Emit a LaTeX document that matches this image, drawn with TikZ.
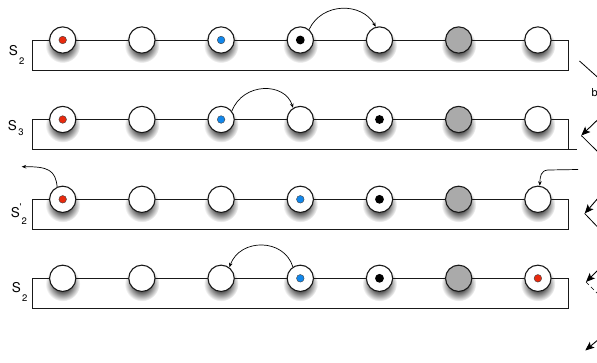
\documentclass[tikz,border=0pt]{standalone}
\usepackage{fontspec}
\setmainfont{TeX Gyre Heros}
\usetikzlibrary{arrows.meta}
\definecolor{dotred}{RGB}{232,42,14}
\definecolor{dotblue}{RGB}{18,135,235}
\definecolor{slotgray}{RGB}{170,170,170}
\pgfdeclareradialshading{circshadow}{\pgfpoint{0bp}{0bp}}{color(0bp)=(black!75); color(12bp)=(black!62); color(25bp)=(white); color(50bp)=(white)}
\tikzset{
  frame/.style={draw=black!90, line width=0.9pt},
  slot/.style={circle, draw=black!90, line width=1.1pt, fill=white, minimum size=26.3pt, inner sep=0pt},
  grayslot/.style={slot, fill=slotgray},
  redslot/.style={slot, path picture={\filldraw[fill=dotred, draw=black!75, line width=0.4pt] (path picture bounding box.center) circle (3.8);}},
  blueslot/.style={slot, path picture={\filldraw[fill=dotblue, draw=black!75, line width=0.4pt] (path picture bounding box.center) circle (3.8);}},
  blackslot/.style={slot, path picture={\fill[black] (path picture bounding box.center) circle (4.4);}},
  arr/.style={-{Stealth[length=4.5pt,width=3.6pt]}, line width=0.7pt},
  bigarr/.style={-{Stealth[length=9pt,width=7.5pt,inset=2pt]}, line width=0.9pt},
  lab/.style={inner sep=0pt, font=\fontsize{13.5}{14}\selectfont},
  sublab/.style={inner sep=0pt, font=\fontsize{9.5}{10}\selectfont},
}
\begin{document}
\begin{tikzpicture}[x=1pt,y=-1pt]
\useasboundingbox (0,0) rectangle (597,362);
\clip (0,0) rectangle (597,362);
% shadows
\foreach \yy in {40,119.5,199.3,278.3}{
  \foreach \i in {0,...,6}{
    \shade[shading=circshadow] ({62.7+79.2*\i},{\yy+5.5}) circle (17.5);
  }
}
% frames
\foreach \yy in {40,119.5,199.3,278.3}{
  \draw[frame] (32.7,\yy) rectangle (568.3,{\yy+30});
}
\draw[frame] (568.3,149.5) -- (576.5,149.5);
% row 1
\node[redslot]   (c1-1) at (62.7,40) {};
\node[slot]      (c1-2) at (141.9,40) {};
\node[blueslot]  (c1-3) at (221.1,40) {};
\node[blackslot] (c1-4) at (300.3,40) {};
\node[slot]      (c1-5) at (379.5,40) {};
\node[grayslot]  (c1-6) at (458.7,40) {};
\node[slot]      (c1-7) at (537.9,40) {};
% row 2
\node[redslot]   (c2-1) at (62.7,119.5) {};
\node[slot]      (c2-2) at (141.9,119.5) {};
\node[blueslot]  (c2-3) at (221.1,119.5) {};
\node[slot]      (c2-4) at (300.3,119.5) {};
\node[blackslot] (c2-5) at (379.5,119.5) {};
\node[grayslot]  (c2-6) at (458.7,119.5) {};
\node[slot]      (c2-7) at (537.9,119.5) {};
% row 3
\node[redslot]   (c3-1) at (62.7,199.3) {};
\node[slot]      (c3-2) at (141.9,199.3) {};
\node[slot]      (c3-3) at (221.1,199.3) {};
\node[blueslot]  (c3-4) at (300.3,199.3) {};
\node[blackslot] (c3-5) at (379.5,199.3) {};
\node[grayslot]  (c3-6) at (458.7,199.3) {};
\node[slot]      (c3-7) at (537.9,199.3) {};
% row 4
\node[slot]      (c4-1) at (62.7,278.3) {};
\node[slot]      (c4-2) at (141.9,278.3) {};
\node[slot]      (c4-3) at (221.1,278.3) {};
\node[blueslot]  (c4-4) at (300.3,278.3) {};
\node[blackslot] (c4-5) at (379.5,278.3) {};
\node[grayslot]  (c4-6) at (458.7,278.3) {};
\node[redslot]   (c4-7) at (537.9,278.3) {};
% labels
\node[lab] (s1) at (13.3,51) {S};
\node[sublab] (s1i) at (21.8,60.7) {2};
\node[lab] (s2) at (12.5,126) {S};
\node[sublab] (s2i) at (21,132) {3};
\node[lab] (s3) at (15.3,212.5) {S};
\node[sublab] (s3p) at (20.5,207.5) {\textquotesingle};
\node[sublab] (s3i) at (24.2,221) {2};
\node[lab] (s4) at (16.3,287.7) {S};
\node[sublab] (s4i) at (24.7,298) {2};
% moves
\draw[arr] (c1-4.50) .. controls (322,2) and (362,2) .. (c1-5.106);
\draw[arr] (c2-3.38) .. controls (243,82) and (285,82) .. (c2-4.122);
\draw[arr] (c4-4.123) .. controls (284,238) and (240,238) .. (c4-3.53);
\coordinate (out3) at (21.7,166.7);
\draw[arr] (c3-1.114) .. controls (55.5,170) and (48,166.5) .. (out3);
\coordinate (in3) at (578,169.5);
\draw[arr] (in3) -- (548,170) .. controls (541,170.5) and (540,176) .. (c3-7.82);
% right-edge fragments
\draw[line width=0.8pt] (579.5,61) -- (599,78.5);
\node[anchor=west, inner sep=0pt, font=\fontsize{11}{12}\selectfont] (bt) at (591.5,93) {b};
\coordinate (e1a) at (599,118.5); \coordinate (e1b) at (581.3,135.5);
\draw[bigarr] (e1a) -- (e1b);
\draw[line width=0.8pt] (e1b) -- (599,153);
\coordinate (e2a) at (599,197); \coordinate (e2b) at (584.7,213.5);
\draw[bigarr] (e2a) -- (e2b);
\draw[line width=0.8pt] (e2b) -- (599,228.5);
\coordinate (e3a) at (599,269); \coordinate (e3b) at (586,282);
\draw[bigarr] (e3a) -- (e3b);
\draw[line width=0.7pt, dash pattern=on 4pt off 3pt] (e3b) -- (599,295);
\coordinate (e4a) at (599,339); \coordinate (e4b) at (585.3,350.5);
\draw[bigarr] (e4a) -- (e4b);
\end{tikzpicture}
\end{document}
